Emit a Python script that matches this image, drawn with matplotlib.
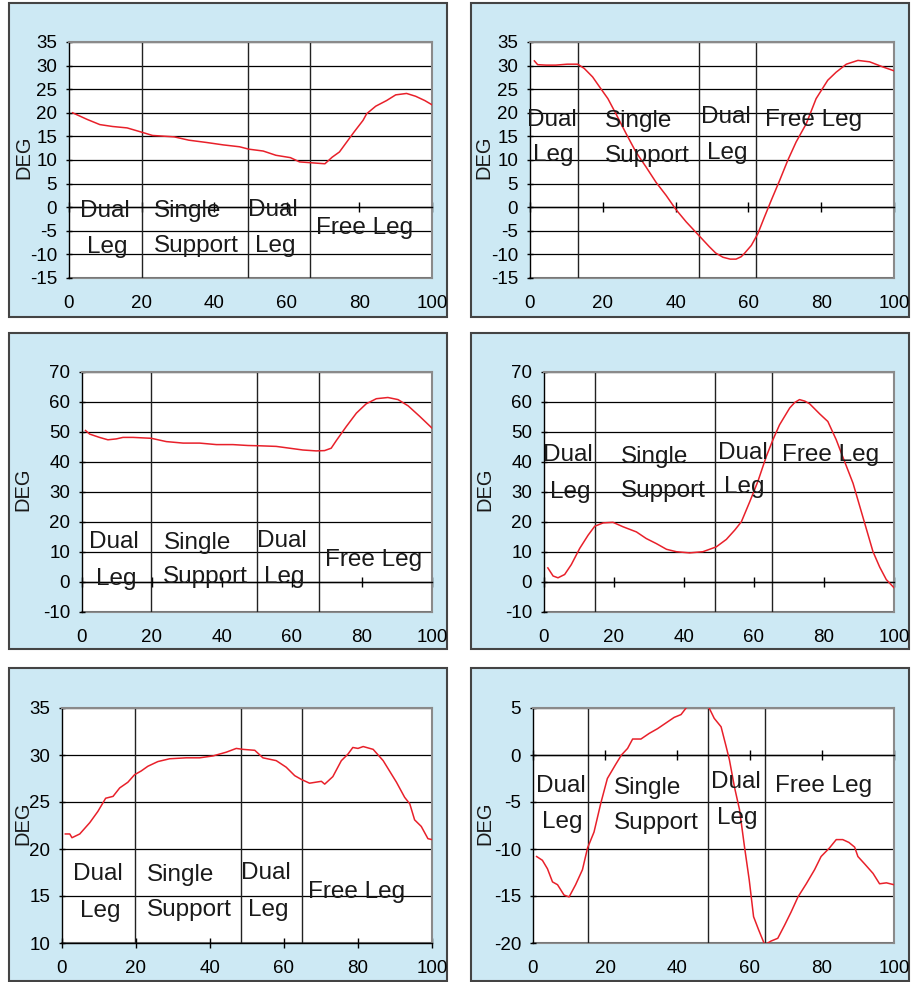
import matplotlib.pyplot as plt
from matplotlib import font_manager
from matplotlib.patches import Rectangle

plt.rcParams["font.family"] = ["Liberation Sans", "DejaVu Sans"]
plt.rcParams["axes.unicode_minus"] = False

# Gait cycle traces (% of cycle -> degrees)
p1_x = [1, 5, 8.5, 12, 16, 20, 23, 29, 33, 38, 42.5, 47, 49.5, 53.5, 57, 61, 63.5, 67,
        70.5, 72.5, 74.5, 76.5, 78.5, 81, 82, 84.5, 87.5, 90, 93, 95.5, 98, 100]
p1_y = [20.0, 18.6, 17.5, 17.1, 16.8, 15.9, 15.2, 14.9, 14.2, 13.7, 13.2, 12.8, 12.3, 11.9,
        11.0, 10.5, 9.6, 9.4, 9.2, 10.6, 11.7, 13.8, 15.9, 18.4, 19.8, 21.4, 22.6, 23.8,
        24.1, 23.5, 22.6, 21.7]

p2_x = [1.2, 2.1, 4.4, 7.1, 10.2, 13.1, 14.9, 17.2, 19.1, 21.4, 23.6, 26.4, 29.1, 31.9,
        34.6, 37.4, 40.1, 42.9, 46.4, 49.3, 51.0, 53.0, 55.0, 56.6, 58.0, 58.9, 60.8, 62.6,
        64.4, 66.3, 68.6, 70.8, 73.1, 75.9, 78.6, 81.8, 84.1, 86.9, 90.1, 93.3, 97.0, 100]
p2_y = [31.0, 30.2, 30.1, 30.1, 30.3, 30.3, 29.4, 27.6, 25.5, 23.0, 19.8, 15.6, 11.7, 8.5,
        5.3, 2.5, -0.5, -3.1, -6.0, -8.4, -9.7, -10.6, -11.0, -11.0, -10.5, -9.8, -8.1, -5.6,
        -2.1, 1.5, 5.7, 9.9, 13.8, 17.7, 23.0, 26.9, 28.6, 30.3, 31.1, 30.8, 29.7, 28.9]

p3_x = [1.0, 2.2, 5.0, 7.4, 9.8, 11.7, 14.6, 19.8, 24.1, 28.9, 33.6, 38.4, 43.1, 47.4, 50.8,
        55.5, 59.3, 63.1, 66.9, 69.3, 71.2, 72.7, 75.5, 78.4, 81.2, 84.1, 87.4, 90.3, 93.2,
        96.5, 100]
p3_y = [50.5, 49.3, 48.2, 47.4, 47.7, 48.2, 48.2, 47.9, 46.8, 46.3, 46.3, 45.8, 45.8, 45.5,
        45.4, 45.2, 44.6, 44.0, 43.7, 43.8, 44.6, 47.2, 51.8, 56.3, 59.4, 61.1, 61.5, 60.8,
        58.7, 55.2, 51.3]

p4_x = [1.1, 2.6, 4.0, 5.9, 7.8, 10.2, 12.6, 14.5, 16.9, 19.7, 22.6, 26.4, 29.2, 32.1, 35.0,
        37.8, 41.6, 45.4, 49.2, 52.1, 54.5, 56.4, 58.8, 61.1, 63.5, 65.4, 67.3, 70.2, 71.6,
        73.0, 74.5, 75.9, 78.8, 81.1, 83.5, 85.9, 88.3, 91.1, 94.0, 95.9, 97.8, 100]
p4_y = [4.7, 2.0, 1.4, 2.5, 5.8, 11.2, 15.6, 18.6, 19.7, 19.9, 18.4, 16.7, 14.5, 12.8, 10.9,
        10.1, 9.7, 10.1, 11.7, 14.2, 17.3, 20.1, 26.8, 33.5, 41.8, 47.4, 52.4, 58.0, 59.8,
        60.8, 60.3, 59.4, 56.0, 53.5, 47.4, 40.1, 32.9, 21.7, 10.1, 5.0, 0.8, -1.9]

p5_x = [0.9, 2.1, 2.7, 4.8, 7.5, 9.7, 11.8, 13.8, 15.6, 17.8, 19.6, 21.4, 23.2, 25.9, 29.1,
        33.6, 37.2, 40.8, 44.4, 47.1, 48.9, 52.1, 54.3, 57.9, 60.6, 62.9, 64.7, 66.9, 70.1,
        71.0, 73.2, 75.5, 77.3, 78.6, 80.0, 81.4, 84.1, 86.8, 90.4, 92.6, 94.0, 95.3, 97.1,
        98.9, 100]
p5_y = [21.6, 21.6, 21.2, 21.6, 22.8, 24.0, 25.4, 25.6, 26.5, 27.1, 27.9, 28.3, 28.8, 29.3,
        29.6, 29.7, 29.7, 29.9, 30.3, 30.7, 30.6, 30.5, 29.7, 29.4, 28.7, 27.8, 27.4, 27.0,
        27.2, 26.9, 27.7, 29.4, 30.1, 30.8, 30.7, 30.9, 30.6, 29.4, 27.1, 25.5, 24.8, 23.1,
        22.4, 21.1, 21.0]

p6_x = [1.0, 2.6, 4.0, 5.4, 6.8, 8.6, 10.0, 11.8, 13.7, 15.1, 16.9, 18.8, 20.6, 22.9, 24.5,
        26.2, 27.6, 29.9, 32.2, 34.5, 36.8, 39.1, 41.0, 42.4, 44.0, 46.0, 47.5, 48.8, 50.2,
        52.1, 53.5, 54.4, 55.8, 57.2, 58.6, 59.9, 61.1, 62.5, 64.2, 65.9, 67.8, 69.7, 71.5,
        73.4, 75.7, 78.0, 79.8, 82.1, 84.0, 85.8, 87.5, 89.1, 90.0, 91.9, 94.2, 96.0, 97.9, 100]
p6_y = [-10.8, -11.2, -12.1, -13.5, -13.8, -14.9, -15.1, -13.8, -12.2, -9.9, -8.2, -5.1,
        -2.5, -1.0, 0.0, 0.7, 1.7, 1.7, 2.3, 2.8, 3.4, 4.0, 4.3, 5.0, 5.8, 6.3, 5.9, 5.0,
        3.9, 3.0, 0.9, -0.5, -3.4, -5.8, -9.8, -13.3, -17.2, -18.6, -20.2, -19.8, -19.5,
        -18.1, -16.7, -15.1, -13.7, -12.2, -10.8, -9.9, -9.0, -9.0, -9.3, -9.8, -10.8, -11.6,
        -12.6, -13.7, -13.6, -13.8]

# phase boundaries (% of cycle)
p1_phases = [20.2, 49.4, 66.3]
p2_phases = [13.3, 46.4, 62.0]
p3_phases = [19.8, 50.1, 67.7]
p4_phases = [14.6, 49.0, 65.2]
p5_phases = [19.6, 48.3, 65.0]
p6_phases = [15.1, 48.6, 64.4]

phase_words = ["Dual", "Leg", "Single", "Support", "Dual", "Leg", "Free Leg"]

# label anchors (x, y centre) in data units, one per word above
p1_words = [(10.0, -0.7), (10.6, -8.4), (32.8, -0.8), (35.1, -8.3), (56.2, -0.5), (56.8, -8.3), (81.4, -4.5)]
p2_words = [(6.0, 18.4), (6.5, 11.0), (29.8, 18.3), (32.2, 10.8), (53.8, 19.1), (54.3, 11.5), (77.8, 18.4)]
p3_words = [(9.2, 13.4), (9.9, 1.1), (32.9, 13.1), (35.3, 1.5), (57.2, 13.7), (57.7, 1.5), (83.3, 7.3)]
p4_words = [(6.9, 42.4), (7.4, 30.1), (31.6, 41.8), (34.2, 30.3), (56.8, 43.1), (57.2, 31.8), (81.8, 42.4)]
p5_words = [(9.7, 17.3), (10.3, 13.4), (32.0, 17.2), (34.3, 13.5), (55.1, 17.4), (55.7, 13.5), (79.6, 15.4)]
p6_words = [(7.7, -3.3), (8.1, -7.1), (31.7, -3.5), (34.1, -7.2), (56.1, -2.9), (56.5, -6.7), (80.4, -3.3)]

x_ticks = [0, 20, 40, 60, 80, 100]

W, H = 912, 982
BOX_FILL = "#cde9f4"
RED = "#e8202a"

# layout in pixels: outer box (l, t, r, b), plot area (l, t, r, b), DEG label (x, y)
panels = [
    dict(x=p1_x, y=p1_y, phases=p1_phases, words=p1_words, ylim=(-15, 35), step=5,
         box=(9, 3, 447, 317), plot=(69, 42, 432, 278), deg=(24, 157)),
    dict(x=p2_x, y=p2_y, phases=p2_phases, words=p2_words, ylim=(-15, 35), step=5,
         box=(471, 3, 909, 317), plot=(530, 42, 894, 278), deg=(484, 157)),
    dict(x=p3_x, y=p3_y, phases=p3_phases, words=p3_words, ylim=(-10, 70), step=10,
         box=(9, 333, 447, 649), plot=(82, 372, 432, 612), deg=(23, 489)),
    dict(x=p4_x, y=p4_y, phases=p4_phases, words=p4_words, ylim=(-10, 70), step=10,
         box=(471, 333, 909, 649), plot=(544, 372, 894, 612), deg=(485, 489)),
    dict(x=p5_x, y=p5_y, phases=p5_phases, words=p5_words, ylim=(10, 35), step=5,
         box=(9, 668, 447, 981), plot=(62, 708, 432, 943), deg=(23, 823)),
    dict(x=p6_x, y=p6_y, phases=p6_phases, words=p6_words, ylim=(-20, 5), step=5,
         box=(471, 668, 909, 981), plot=(533, 708, 894, 943), deg=(485, 823)),
]

# condensed face for the phase labels if we have one
names = {f.name for f in font_manager.fontManager.ttflist}
if "Liberation Sans Narrow" in names:
    WORD_FONT, WORD_SIZE = "Liberation Sans Narrow", 20
else:
    WORD_FONT, WORD_SIZE = "Liberation Sans", 17.5


def px_rect(l, t, r, b):
    return [l / W, 1 - b / H, (r - l) / W, (b - t) / H]


fig = plt.figure(figsize=(W / 100, H / 100), dpi=100)

for p in panels:
    l, t, r, b = p["box"]
    fig.patches.append(Rectangle((l / W, 1 - b / H), (r - l) / W, (b - t) / H,
                                 transform=fig.transFigure, facecolor=BOX_FILL,
                                 edgecolor="#444444", linewidth=1.5, zorder=-5))

    ax = fig.add_axes(px_rect(*p["plot"]))
    ax.set_facecolor("white")
    lo, hi = p["ylim"]
    ax.set_xlim(0, 100)
    ax.set_ylim(lo, hi)
    ax.set_yticks(range(lo, hi + 1, p["step"]))
    ax.yaxis.grid(True, color="black", linewidth=0.9)
    ax.set_axisbelow(True)

    for s in ("top", "right"):
        ax.spines[s].set_color("#8a8a8a")
        ax.spines[s].set_linewidth(1.5)
    ax.spines["left"].set_color("black")
    ax.spines["left"].set_linewidth(1.0)

    # category axis crosses at zero, labels stay at the bottom
    ax.spines["bottom"].set_position(("data", max(0, lo)))
    ax.spines["bottom"].set_color("black")
    ax.spines["bottom"].set_linewidth(1.0)
    ax.set_xticks(x_ticks)
    ax.tick_params(axis="x", direction="inout", length=7, width=1, labelbottom=False)
    ax.tick_params(axis="y", direction="inout", length=5, width=1, labelsize=13.5, pad=6)

    sec = ax.secondary_xaxis(0)
    sec.set_xticks(x_ticks)
    sec.tick_params(length=0, labelsize=13.5, pad=12)
    sec.spines["bottom"].set_color("#8a8a8a")
    sec.spines["bottom"].set_linewidth(1.5)

    for xv in p["phases"]:
        ax.axvline(xv, color="#222222", linewidth=1.0, zorder=2)

    ax.plot(p["x"], p["y"], color=RED, linewidth=1.1, zorder=3)

    for word, (wx, wy) in zip(phase_words, p["words"]):
        ax.text(wx, wy, word, ha="center", va="center", fontsize=WORD_SIZE,
                family=[WORD_FONT, "DejaVu Sans"], color="#1a1a1a", zorder=4)

    dx, dy = p["deg"]
    fig.text(dx / W, 1 - dy / H, "DEG", rotation=90, ha="center", va="center",
             fontsize=14.5, color="#1a1a1a")

fig.savefig("out.png", dpi=100, facecolor="white")
